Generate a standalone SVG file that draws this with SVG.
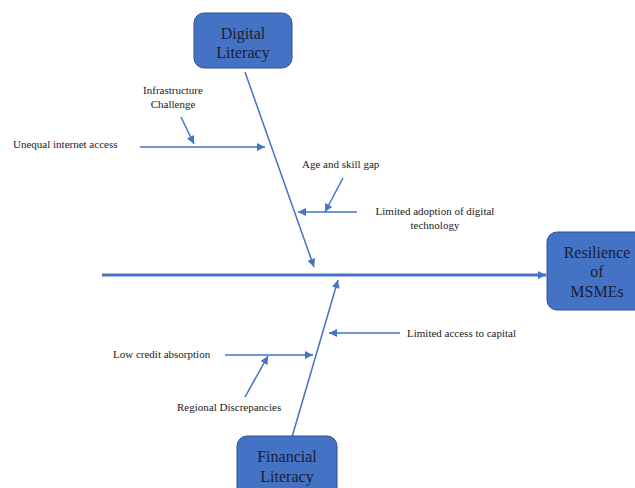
<svg xmlns="http://www.w3.org/2000/svg" width="635" height="488" viewBox="0 0 635 488">
<style>
.box{fill:#4472C4;stroke:#2F528F;stroke-width:1}
.bt{font-size:16px;fill:#1b2035;text-anchor:middle}
.lb{font-size:11px;fill:#1a1a1a}
.c{stroke:#4472C4;stroke-width:1.5;fill:none;marker-end:url(#ah)}
</style>
<defs>
<marker id="ah" viewBox="0 0 10 10" refX="10" refY="5" markerUnits="userSpaceOnUse" markerWidth="9" markerHeight="8" orient="auto">
<path d="M0,0 L10,5 L0,10 z" fill="#4472C4"/>
</marker>
<marker id="ahs" viewBox="0 0 10 10" refX="10" refY="5" markerUnits="userSpaceOnUse" markerWidth="8" markerHeight="9" orient="auto">
<path d="M0,0 L10,5 L0,10 z" fill="#4472C4"/>
</marker>
</defs>
<rect width="635" height="488" fill="#ffffff"/>
<g id="connectors">
<line x1="102" y1="275" x2="546" y2="275" stroke="#4472C4" stroke-width="3" marker-end="url(#ahs)"/>
<line class="c" x1="245" y1="72" x2="314" y2="267"/>
<line class="c" x1="292" y1="437" x2="338" y2="280"/>
<line class="c" x1="140" y1="147" x2="265" y2="147"/>
<line class="c" x1="181" y1="117" x2="194" y2="144"/>
<line class="c" x1="357" y1="212" x2="298" y2="212"/>
<line class="c" x1="343" y1="178" x2="325" y2="212"/>
<line class="c" x1="225" y1="355" x2="313" y2="355"/>
<line class="c" x1="245" y1="397" x2="268" y2="356"/>
<line class="c" x1="400" y1="333" x2="329" y2="333"/>
</g>
<g font-family="'Liberation Serif', 'DejaVu Serif', serif">
<g id="digital-literacy">
<rect class="box" x="194" y="13" width="98" height="55" rx="10"/>
<text class="bt" x="243" y="39">Digital</text>
<text class="bt" x="243" y="58">Literacy</text>
</g>
<g id="financial-literacy">
<rect class="box" x="237" y="436" width="100" height="70" rx="10"/>
<text class="bt" x="287" y="462">Financial</text>
<text class="bt" x="287" y="482">Literacy</text>
</g>
<g id="resilience">
<rect class="box" x="547" y="232" width="100" height="78" rx="10"/>
<text class="bt" x="597" y="258">Resilience</text>
<text class="bt" x="597" y="277">of</text>
<text class="bt" x="597" y="297">MSMEs</text>
</g>
<g id="unequal-internet-access">
<text class="lb" x="13" y="148">Unequal internet access</text>
</g>
<g id="infrastructure-challenge">
<text class="lb" x="173" y="94" text-anchor="middle">Infrastructure</text>
<text class="lb" x="173" y="108" text-anchor="middle">Challenge</text>
</g>
<g id="age-skill-gap">
<text class="lb" x="302" y="168">Age and skill gap</text>
</g>
<g id="limited-adoption">
<text class="lb" x="435" y="215" text-anchor="middle">Limited adoption  of digital</text>
<text class="lb" x="435" y="229" text-anchor="middle">technology</text>
</g>
<g id="low-credit-absorption">
<text class="lb" x="113" y="358">Low credit absorption</text>
</g>
<g id="regional-discrepancies">
<text class="lb" x="177" y="411">Regional Discrepancies</text>
</g>
<g id="limited-access-capital">
<text class="lb" x="407" y="337">Limited access to capital</text>
</g>
</g>
</svg>
